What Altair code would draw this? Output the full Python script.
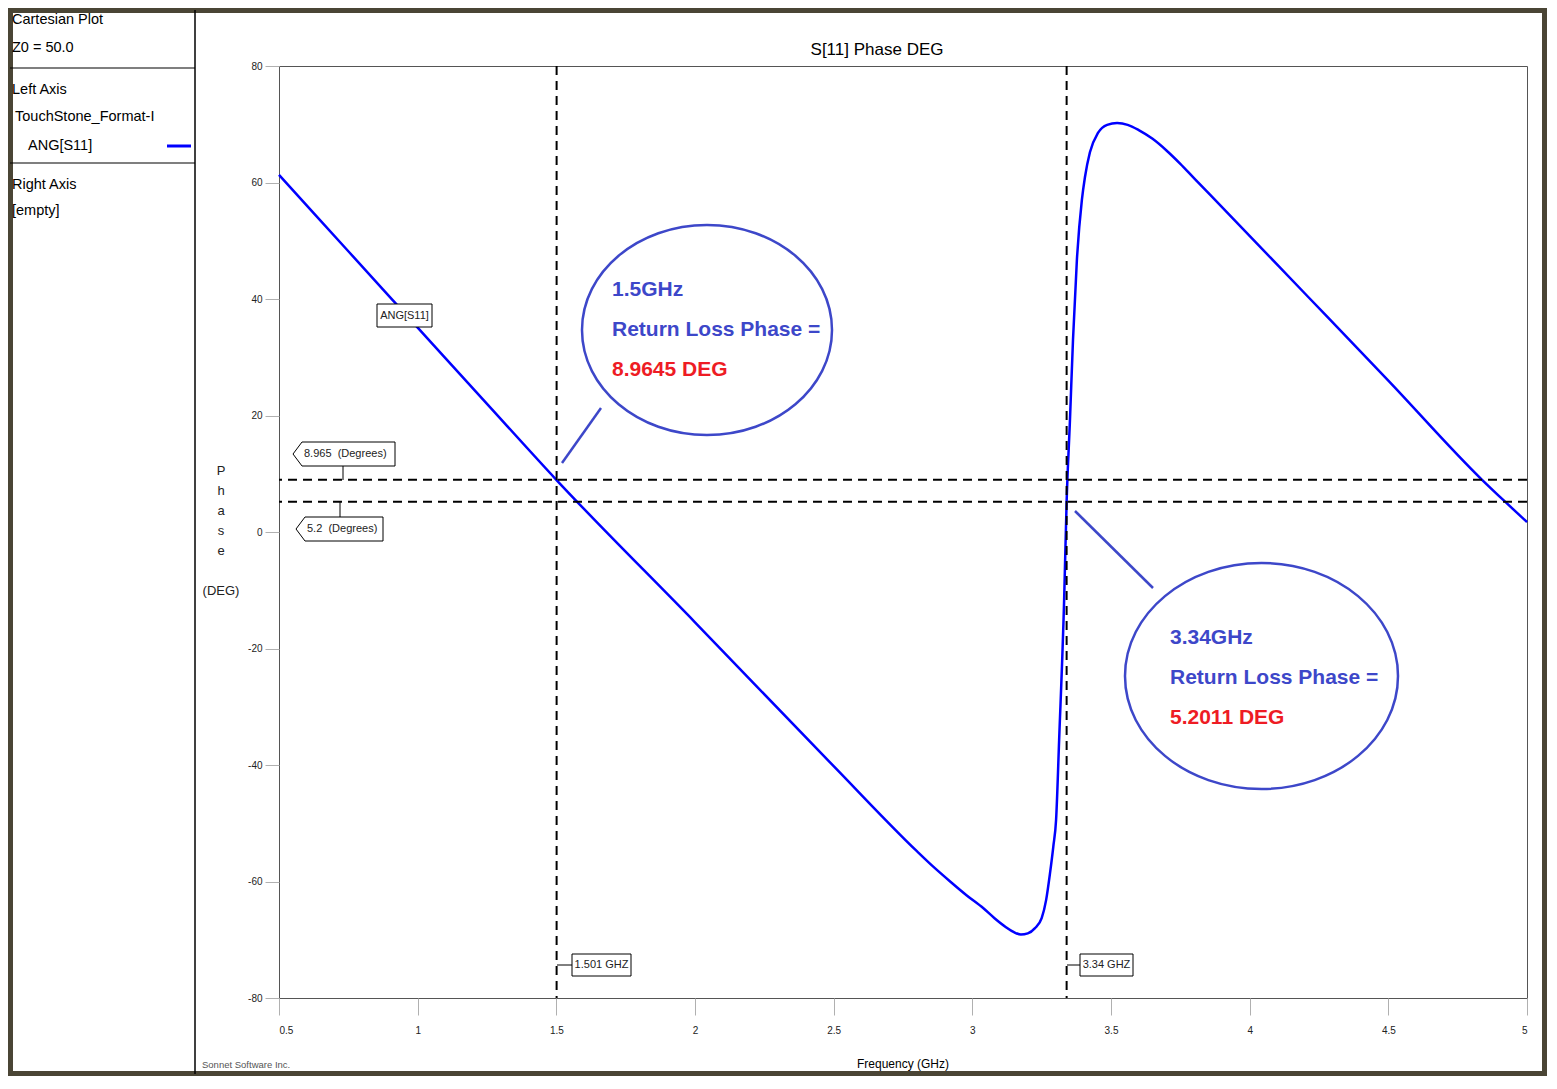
import altair as alt
import pandas as pd

# ---------------- data ----------------
freq_ghz = [0.5, 0.75, 1.0, 1.25, 1.5, 2.0, 2.5, 2.8, 2.86, 2.92, 2.98, 3.04, 3.08, 3.12, 3.15,
            3.175, 3.2, 3.226, 3.25, 3.266, 3.28, 3.292, 3.302, 3.313, 3.331, 3.34, 3.352,
            3.363, 3.377, 3.395, 3.406, 3.424, 3.453, 3.486, 3.522, 3.56, 3.6,
            3.65, 3.7, 3.75, 3.8, 3.857, 4.2, 4.5, 4.838, 4.921, 5.0]
phase_deg = [61.3, 48.2, 35.1, 22.0, 8.96, -15.5, -40.2, -54.8, -57.5, -60.0, -62.4, -64.6, -66.3, -67.8, -68.7,
             -69.1, -68.9, -68.0, -66.3, -63.2, -58.6, -54.0, -49.4, -35.7, -11.7, 5.2, 19.2,
             33.0, 46.7, 57.0, 60.9, 65.2, 68.5, 69.9, 70.2, 69.9, 69.0,
             67.5, 65.5, 63.2, 60.7, 57.9, 40.9, 26.0, 8.965, 5.2, 1.7]

marker_freqs = [1.501, 3.34]
marker_phases = [8.965, 5.2]

x_ticks = [0.5, 1, 1.5, 2, 2.5, 3, 3.5, 4, 4.5, 5]
y_ticks = [-80, -60, -40, -20, 0, 20, 40, 60, 80]

title_text = "S[11] Phase DEG"
x_title = "Frequency (GHz)"
y_title_letters = ["P", "h", "a", "s", "e"]
y_title_unit = "(DEG)"
panel_lines = [("Cartesian Plot", 12, 20), ("Z0 = 50.0", 12, 48), ("Left Axis", 12, 90),
               ("TouchStone_Format-I", 15, 117), ("ANG[S11]", 28, 146),
               ("Right Axis", 12, 185), ("[empty]", 12, 211)]

curve = pd.DataFrame({"f": freq_ghz, "p": phase_deg})
hlines = pd.DataFrame({"p": marker_phases})
vlines = pd.DataFrame({"f": marker_freqs})

# ---------------- style ----------------
FONT = "Liberation Sans, Arial, sans-serif"
FRAME = "#4a4535"
ANNO_BLUE = "#3d47c9"
ANNO_RED = "#ee1c24"
CURVE_BLUE = "#0000ff"
W, H = 1248, 932
PAD = {"left": 271, "top": 58, "right": 20, "bottom": 78}
BLANK = alt.InlineData(values=[{}])


def px(x):
    return x - 279


def py(y):
    return y - 66


def label(s, x, y, size=12, color="#222", align="left", weight="normal", lh=None):
    kw = dict(text=s, align=align, baseline="middle", fontSize=size, color=color,
              fontWeight=weight, font=FONT)
    if lh:
        kw["lineHeight"] = lh
    return alt.Chart(BLANK).mark_text(**kw).encode(x=alt.value(px(x)), y=alt.value(py(y)))


def seg(x1, y1, x2, y2, color="black", width=1.0, dash=None):
    kw = dict(color=color, strokeWidth=width)
    if dash:
        kw["strokeDash"] = dash
    return alt.Chart(BLANK).mark_rule(**kw).encode(
        x=alt.value(px(x1)), y=alt.value(py(y1)), x2=alt.value(px(x2)), y2=alt.value(py(y2)))


def box(x1, y1, x2, y2):
    return alt.Chart(BLANK).mark_rect(fill="white", stroke="black", strokeWidth=1).encode(
        x=alt.value(px(x1)), y=alt.value(py(y1)), x2=alt.value(px(x2)), y2=alt.value(py(y2)))


def shape(path, cx, cy, stroke, width, fill=None):
    kw = dict(shape=path, size=4, stroke=stroke, strokeWidth=width, opacity=1)
    if fill:
        kw.update(filled=True, fill=fill)
    else:
        kw.update(filled=False)
    return alt.Chart(BLANK).mark_point(**kw).encode(x=alt.value(px(cx)), y=alt.value(py(cy)))


def ellipse_path(rx, ry):
    k = 0.5523
    return (f"M {rx} 0 C {rx} {ry*k:.2f} {rx*k:.2f} {ry} 0 {ry} "
            f"C {-rx*k:.2f} {ry} {-rx} {ry*k:.2f} {-rx} 0 "
            f"C {-rx} {-ry*k:.2f} {-rx*k:.2f} {-ry} 0 {-ry} "
            f"C {rx*k:.2f} {-ry} {rx} {-ry*k:.2f} {rx} 0 Z")


def pentagon_path(w, h, tip):
    return (f"M {-w/2} 0 L {-w/2 + tip} {-h/2} L {w/2} {-h/2} L {w/2} {h/2} "
            f"L {-w/2 + tip} {h/2} Z")


xscale = alt.Scale(domain=[0.5, 5], nice=False, zero=False)
yscale = alt.Scale(domain=[-80, 80], nice=False, zero=False)

# ---------------- layers ----------------
layers = []

# outer frame and left panel separators
layers.append(alt.Chart(BLANK).mark_rect(filled=False, stroke=FRAME, strokeWidth=5).encode(
    x=alt.value(-PAD["left"] + 2.5), x2=alt.value(W + PAD["right"] - 2.5),
    y=alt.value(-PAD["top"] + 2.5), y2=alt.value(H + PAD["bottom"] - 2.5)))
layers.append(seg(195, 10, 195, 1074, width=1.5))
layers.append(seg(10, 68, 195, 68, width=1.2))
layers.append(seg(10, 163, 195, 163, width=1.2))

for s, x, y in panel_lines:
    layers.append(label(s, x, y, size=14.5, color="black"))
layers.append(seg(167, 146, 191, 146, color=CURVE_BLUE, width=3))

# data curve with axes
axis_common = dict(title=None, grid=False, domain=False, tickColor="#b0b0b0",
                   labelFont=FONT, labelFontSize=10, labelColor="#222",
                   labelExpr="'' + datum.value")
base = alt.Chart(curve).mark_line(color=CURVE_BLUE, strokeWidth=2.5, interpolate="monotone").encode(
    x=alt.X("f:Q", scale=xscale,
            axis=alt.Axis(values=x_ticks, tickSize=17, labelPadding=10, **axis_common)),
    y=alt.Y("p:Q", scale=yscale,
            axis=alt.Axis(values=y_ticks, tickSize=14, labelPadding=3, **axis_common)))
layers.append(base)

# marker dashed lines
layers.append(alt.Chart(hlines).mark_rule(color="black", strokeWidth=2, strokeDash=[9, 6]).encode(
    y=alt.Y("p:Q", scale=yscale)))
layers.append(alt.Chart(vlines).mark_rule(color="black", strokeWidth=2, strokeDash=[9, 6]).encode(
    x=alt.X("f:Q", scale=xscale)))

# titles
layers.append(label(title_text, 877, 50, size=17, color="black", align="center"))
layers.append(label(x_title, 903, 1064, size=12, color="black", align="center"))
layers.append(label(y_title_letters, 221, 471, size=13, color="#222", align="center", lh=20))
layers.append(label(y_title_unit, 221, 591, size=13, color="#222", align="center"))
layers.append(label("Sonnet Software Inc.", 202, 1065, size=9.5, color="#555"))

# curve label
layers.append(box(377, 304, 432, 327))
layers.append(label("ANG[S11]", 404.5, 316, size=11, color="#222", align="center"))

# marker value labels (y)
layers.append(seg(343, 466, 343, 480))
layers.append(shape(pentagon_path(102, 24, 9), 344, 454, "black", 1, fill="white"))
layers.append(label("8.965\u00a0\u00a0(Degrees)", 304, 454, size=11))
layers.append(seg(340, 502, 340, 517))
layers.append(shape(pentagon_path(87, 24, 9), 339.5, 529, "black", 1, fill="white"))
layers.append(label("5.2\u00a0\u00a0(Degrees)", 307, 529, size=11))

# marker value labels (x)
layers.append(seg(557, 965, 572, 965))
layers.append(box(572, 954, 631, 976))
layers.append(label("1.501 GHZ", 601.5, 965, size=11, align="center"))
layers.append(seg(1067, 965, 1080, 965))
layers.append(box(1080, 954, 1133, 976))
layers.append(label("3.34 GHZ", 1106.5, 965, size=11, align="center"))

# callout ellipses
layers.append(seg(601, 408, 562, 463, color=ANNO_BLUE, width=2.5))
layers.append(shape(ellipse_path(125, 105), 707, 330, ANNO_BLUE, 2.5))
layers.append(label("1.5GHz", 612, 290, size=21, color=ANNO_BLUE, weight="bold"))
layers.append(label("Return Loss Phase =", 612, 330, size=21, color=ANNO_BLUE, weight="bold"))
layers.append(label("8.9645 DEG", 612, 370, size=21, color=ANNO_RED, weight="bold"))

layers.append(seg(1153, 588, 1075, 511, color=ANNO_BLUE, width=2.5))
layers.append(shape(ellipse_path(136.5, 113), 1261.5, 676, ANNO_BLUE, 2.5))
layers.append(label("3.34GHz", 1170, 638, size=21, color=ANNO_BLUE, weight="bold"))
layers.append(label("Return Loss Phase =", 1170, 678, size=21, color=ANNO_BLUE, weight="bold"))
layers.append(label("5.2011 DEG", 1170, 718, size=21, color=ANNO_RED, weight="bold"))

chart = alt.layer(*layers).properties(
    width=W, height=H,
    padding=PAD,
    autosize=alt.AutoSizeParams(type="none"),
    background="white",
).configure_view(stroke="#555", strokeWidth=1)

chart.save("out.html", embed_options={"renderer": "svg", "actions": False})
